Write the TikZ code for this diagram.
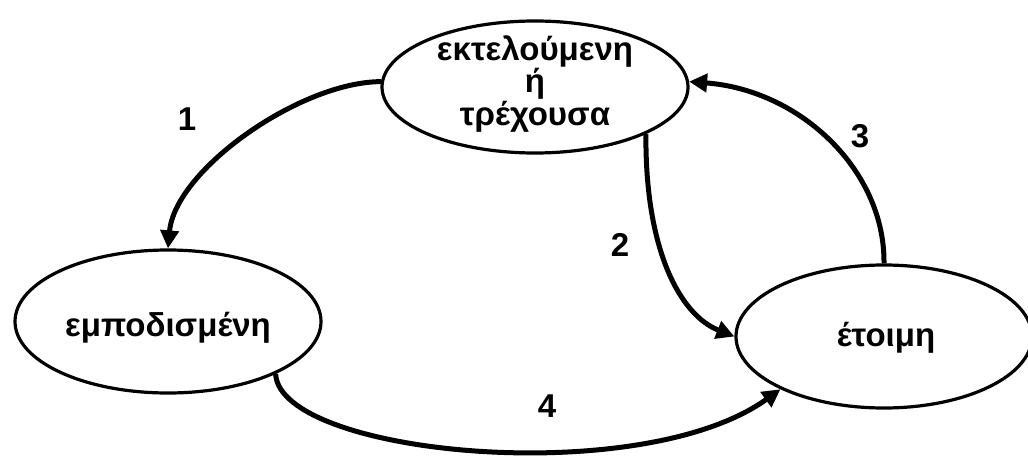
\documentclass[tikz,border=0pt]{standalone}
\usepackage{fontspec}
\setmainfont{Liberation Sans}[BoldFont={Liberation Sans Bold}]
\usetikzlibrary{shapes.geometric,arrows.meta}
\tikzset{
  state/.style={ellipse, draw=black, line width=3.2pt, inner sep=0pt, fill=none},
  lbl/.style={font=\bfseries\fontsize{33pt}{30pt}\selectfont, inner sep=0pt, align=center},
  conn/.style={line width=5pt, -{Triangle[length=18pt,width=18pt]}},
}
\begin{document}
\begin{tikzpicture}[x=1pt,y=-1pt]
\useasboundingbox[fill=white] (0,0) rectangle (1028,460);
% states
\node[state, minimum width=306pt, minimum height=132pt] (run) at (535,87) {};
\node[state, minimum width=306pt, minimum height=143pt] (blk) at (168,321.5) {};
\node[state, minimum width=296pt, minimum height=143pt] (rdy) at (884,336.5) {};
% texts
\node[lbl, anchor=center] (runtxt) at (535,84) {εκτελούμενη\\ή\\τρέχουσα};
\node[lbl, anchor=base] (blktxt) at (168,336) {εμποδισμένη};
\node[lbl, anchor=base] (rdytxt) at (886,346) {έτοιμη};
% connectors
\draw[conn] (run.178) .. controls (300,82) and (175,170) .. (blk.north);
\draw[conn] (run.-23) .. controls (645,250) and (680,315) .. (rdy.west);
\draw[conn] (rdy.north) .. controls (885,170) and (800,90) .. (run.2);
\draw[conn] (blk.-26) .. controls (280,455) and (640,490) .. (rdy.-153);
% labels
\node[lbl] (l1) at (187,119) {1};
\node[lbl] (l2) at (620,245) {2};
\node[lbl] (l3) at (860,136) {3};
\node[lbl] (l4) at (547,406) {4};
\end{tikzpicture}
\end{document}
